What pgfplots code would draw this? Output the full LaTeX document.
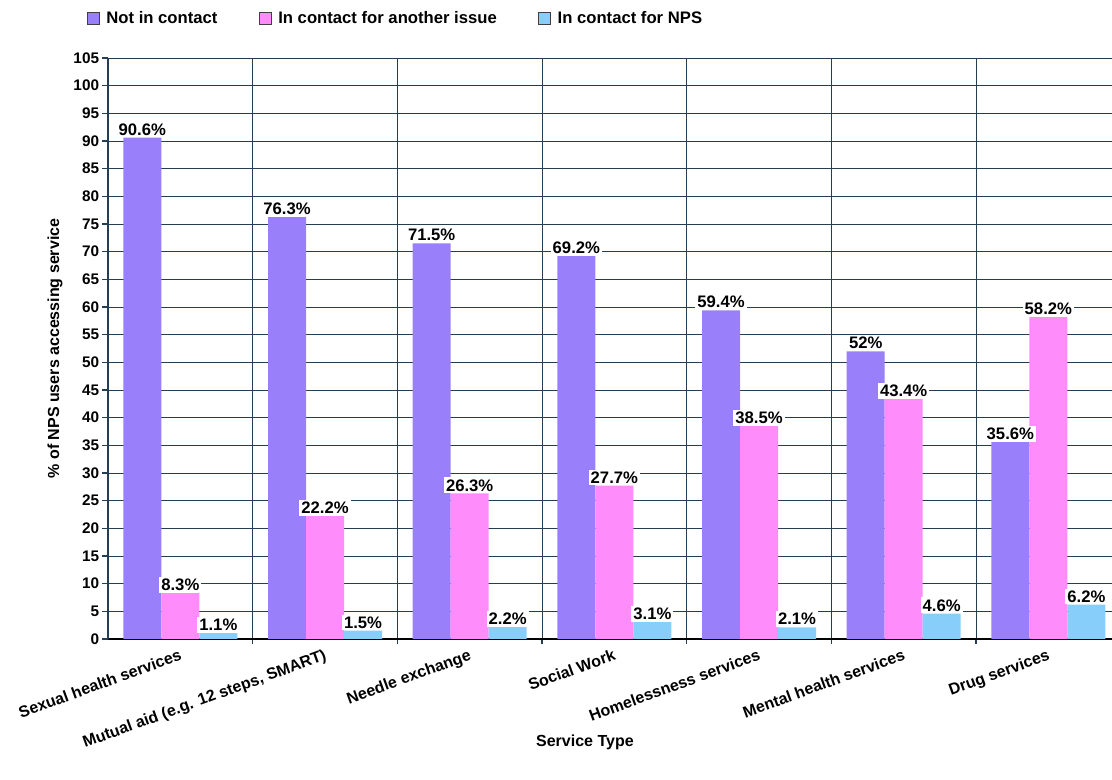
\documentclass[border=0pt]{standalone}
\usepackage{pgfplots}
\pgfplotsset{compat=1.18}
\usepackage{fontspec}
\setmainfont{Liberation Sans}
\definecolor{cpurple}{RGB}{153,128,250}
\definecolor{cpink}{RGB}{255,140,250}
\definecolor{cblue}{RGB}{135,206,250}
\definecolor{cgrid}{RGB}{35,62,85}
\begin{document}
\begin{tikzpicture}
\path[use as bounding box] (0,0) rectangle (834pt,585pt);
\begin{axis}[
  at={(81pt,105.75pt)}, anchor=south west,
  scale only axis, width=753pt, height=435.75pt,
  xmin=-0.5, xmax=6.44, ymin=0, ymax=105,
  ybar=0pt, bar width=28.5pt,
  axis x line*=bottom, axis y line*=left,
  x axis line style={black, line width=1.3pt},
  y axis line style={cgrid, line width=0.8pt},
  ytick={0,5,...,105},
  xtick={0,1,2,3,4,5,6},
  xticklabels={Sexual health services, {Mutual aid (e.g. 12 steps, SMART)}, Needle exchange, Social Work, Homelessness services, Mental health services, Drug services},
  minor xtick={0.5,1.5,2.5,3.5,4.5,5.5,6.5},
  major x tick style={draw=none},
  minor x tick style={draw=cgrid, line width=0.8pt},
  ytick style={draw=cgrid, line width=0.8pt},
  tick align=outside, major tick length=4.5pt, minor tick length=4pt,
  ymajorgrids, xminorgrids,
  major grid style={cgrid, line width=0.7pt},
  minor grid style={cgrid, line width=0.7pt},
  /pgf/number format/assume math mode=true,
  yticklabel style={font=\bfseries\fontsize{11.5}{13}\selectfont, inner sep=2pt},
  xticklabel style={font=\bfseries\fontsize{12}{14}\selectfont, rotate=20, anchor=north east, inner sep=2pt},
  ylabel={\% of NPS users accessing service},
  ylabel style={at={(axis description cs:-0.0528,0.5)}, anchor=center, font=\bfseries\fontsize{12}{14}\selectfont},
  xlabel={Service Type},
  xlabel style={at={(axis description cs:0.475,0)}, yshift=-77.25pt, anchor=center, font=\bfseries\fontsize{12}{14}\selectfont},
  nodes near coords={\pgfmathprintnumber[fixed,precision=1,assume math mode=true]{\pgfplotspointmeta}\%},
  every node near coord/.append style={font=\bfseries\fontsize{12.5}{14}\selectfont, fill=white, inner sep=1.5pt, anchor=south, text=black},
  legend columns=3,
  legend style={at={(axis description cs:0,1)}, anchor=west, xshift=-16pt, yshift=30pt, draw=none, fill=none, inner sep=0pt,
    font=\bfseries\fontsize{12.5}{14}\selectfont,
    /tikz/every odd column/.append style={column sep=3pt},
    /tikz/every even column/.append style={column sep=29pt}},
  legend image code/.code={\draw[#1, draw=darkgray, line width=0.6pt] (0pt,-4.5pt) rectangle (9pt,4.5pt);},
]
\addplot[fill=cpurple, draw=none] coordinates {(0,90.6) (1,76.3) (2,71.5) (3,69.2) (4,59.4) (5,52) (6,35.6)};
\addplot[fill=cpink, draw=none] coordinates {(0,8.3) (1,22.2) (2,26.3) (3,27.7) (4,38.5) (5,43.4) (6,58.2)};
\addplot[fill=cblue, draw=none] coordinates {(0,1.1) (1,1.5) (2,2.2) (3,3.1) (4,2.1) (5,4.6) (6,6.2)};
\legend{Not in contact, In contact for another issue, In contact for NPS}
\end{axis}
\end{tikzpicture}
\end{document}
